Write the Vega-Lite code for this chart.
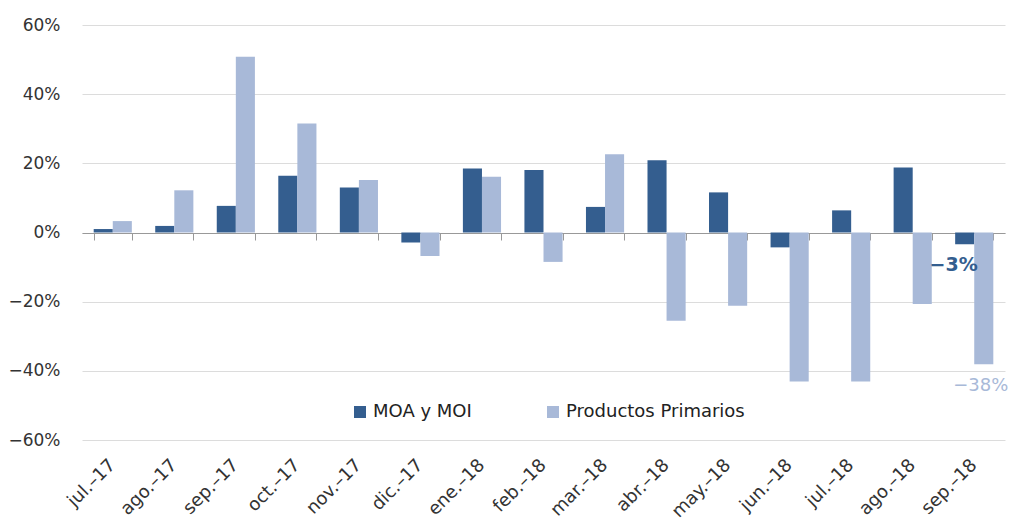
{
  "$schema": "https://vega.github.io/schema/vega-lite/v6.json",
  "width": 923,
  "height": 415,
  "autosize": "none",
  "padding": {"left": 82, "top": 25, "right": 4, "bottom": 86},
  "background": "white",
  "config": {
    "view": {"stroke": null},
    "font": "DejaVu Sans"
  },
  "data": {
    "values": [
      {"mes": "jul.–17", "serie": "MOA y MOI", "valor": 0.010},
      {"mes": "jul.–17", "serie": "Productos Primarios", "valor": 0.033},
      {"mes": "ago.–17", "serie": "MOA y MOI", "valor": 0.019},
      {"mes": "ago.–17", "serie": "Productos Primarios", "valor": 0.122},
      {"mes": "sep.–17", "serie": "MOA y MOI", "valor": 0.077},
      {"mes": "sep.–17", "serie": "Productos Primarios", "valor": 0.508},
      {"mes": "oct.–17", "serie": "MOA y MOI", "valor": 0.164},
      {"mes": "oct.–17", "serie": "Productos Primarios", "valor": 0.315},
      {"mes": "nov.–17", "serie": "MOA y MOI", "valor": 0.130},
      {"mes": "nov.–17", "serie": "Productos Primarios", "valor": 0.152},
      {"mes": "dic.–17", "serie": "MOA y MOI", "valor": -0.029},
      {"mes": "dic.–17", "serie": "Productos Primarios", "valor": -0.068},
      {"mes": "ene.–18", "serie": "MOA y MOI", "valor": 0.185},
      {"mes": "ene.–18", "serie": "Productos Primarios", "valor": 0.161},
      {"mes": "feb.–18", "serie": "MOA y MOI", "valor": 0.181},
      {"mes": "feb.–18", "serie": "Productos Primarios", "valor": -0.085},
      {"mes": "mar.–18", "serie": "MOA y MOI", "valor": 0.074},
      {"mes": "mar.–18", "serie": "Productos Primarios", "valor": 0.226},
      {"mes": "abr.–18", "serie": "MOA y MOI", "valor": 0.209},
      {"mes": "abr.–18", "serie": "Productos Primarios", "valor": -0.255},
      {"mes": "may.–18", "serie": "MOA y MOI", "valor": 0.116},
      {"mes": "may.–18", "serie": "Productos Primarios", "valor": -0.212},
      {"mes": "jun.–18", "serie": "MOA y MOI", "valor": -0.043},
      {"mes": "jun.–18", "serie": "Productos Primarios", "valor": -0.431},
      {"mes": "jul.–18", "serie": "MOA y MOI", "valor": 0.064},
      {"mes": "jul.–18", "serie": "Productos Primarios", "valor": -0.431},
      {"mes": "ago.–18", "serie": "MOA y MOI", "valor": 0.188},
      {"mes": "ago.–18", "serie": "Productos Primarios", "valor": -0.207},
      {"mes": "sep.–18", "serie": "MOA y MOI", "valor": -0.034},
      {"mes": "sep.–18", "serie": "Productos Primarios", "valor": -0.381}
    ]
  },
  "encoding": {
    "x": {
      "field": "mes",
      "type": "nominal",
      "sort": null,
      "scale": {"paddingInner": 0.38, "paddingOuter": 0.19},
      "title": null,
      "axis": null
    },
    "y": {
      "field": "valor",
      "type": "quantitative",
      "scale": {"domain": [-0.6, 0.6], "nice": false, "zero": false},
      "title": null
    },
    "xOffset": {"field": "serie", "type": "nominal", "scale": {"paddingInner": 0, "paddingOuter": 0}}
  },
  "resolve": {"axis": {"x": "independent"}},
  "layer": [
    {
      "mark": {"type": "bar"},
      "encoding": {
        "x": {
          "field": "mes",
          "type": "nominal",
          "sort": null,
          "title": null,
          "axis": {
            "orient": "bottom",
            "domain": false,
            "ticks": false,
            "labelAngle": -45,
            "labelAlign": "right",
            "labelBaseline": "middle",
            "labelFontSize": 18,
            "labelColor": "#333333",
            "labelPadding": 22
          }
        },
        "y": {
          "field": "valor",
          "type": "quantitative",
          "title": null,
          "axis": {
            "values": [-0.6, -0.4, -0.2, 0, 0.2, 0.4, 0.6],
            "format": ".0%",
            "domain": false,
            "ticks": false,
            "labelPadding": 22,
            "labelFontSize": 17,
            "labelColor": "#333333",
            "gridColor": "#dcdcdc",
            "gridWidth": 1
          }
        },
        "color": {
          "field": "serie",
          "type": "nominal",
          "scale": {"domain": ["MOA y MOI", "Productos Primarios"], "range": ["#345E8F", "#A8B9D8"]},
          "legend": {
            "title": null,
            "orient": "none",
            "direction": "horizontal",
            "legendX": 269,
            "legendY": 378,
            "symbolType": "square",
            "symbolSize": 144,
            "symbolStrokeWidth": 0,
            "symbolOpacity": 1,
            "labelFontSize": 18,
            "labelLimit": 400,
            "labelColor": "#222222",
            "labelOffset": 4,
            "columnPadding": 72
          }
        }
      }
    },
    {
      "mark": {"type": "point", "opacity": 0},
      "encoding": {
        "x": {
          "field": "mes",
          "type": "nominal",
          "sort": null,
          "title": null,
          "axis": {
            "orient": "top",
            "offset": -208,
            "labels": false,
            "grid": false,
            "domain": true,
            "domainColor": "#999999",
            "domainWidth": 1,
            "ticks": true,
            "tickBand": "extent",
            "tickColor": "#999999",
            "tickSize": -7,
            "tickWidth": 1
          }
        },
        "y": {"datum": 0, "type": "quantitative"},
        "xOffset": null
      }
    },
    {
      "transform": [{"filter": "datum.mes === 'sep.–18' && datum.serie === 'MOA y MOI'"}],
      "mark": {"type": "text", "fontSize": 19, "fontWeight": "bold", "color": "#345E8F", "baseline": "middle", "align": "center", "dx": -11, "dy": 21},
      "encoding": {
        "text": {"field": "valor", "type": "quantitative", "format": ".0%"}
      }
    },
    {
      "transform": [{"filter": "datum.mes === 'sep.–18' && datum.serie === 'Productos Primarios'"}],
      "mark": {"type": "text", "fontSize": 18, "color": "#A8B9D8", "baseline": "middle", "align": "center", "dx": -3, "dy": 22},
      "encoding": {
        "text": {"field": "valor", "type": "quantitative", "format": ".0%"}
      }
    }
  ]
}
